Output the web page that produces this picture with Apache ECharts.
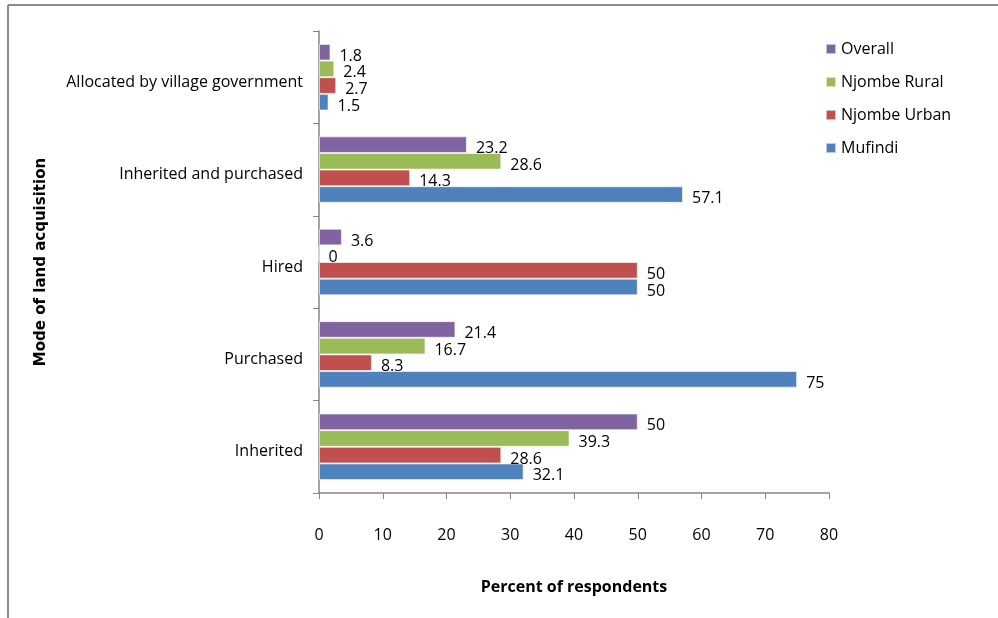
<!DOCTYPE html>
<html>
<head>
<meta charset="utf-8">
<script src="https://cdn.jsdelivr.net/npm/echarts@6/dist/echarts.min.js"></script>
<style>
  html, body { margin: 0; padding: 0; background: #fff; }
  #chart { width: 998px; height: 618px; }
</style>
</head>
<body>
<div id="chart"></div>
<script>
var modes = ['Inherited', 'Purchased', 'Hired', 'Inherited and purchased', 'Allocated by village government'];
var mufindi = [32.1, 75, 50, 57.1, 1.5];
var njombeUrban = [28.6, 8.3, 50, 14.3, 2.7];
var njombeRural = [39.3, 16.7, 0, 28.6, 2.4];
var overall = [50, 21.4, 3.6, 23.2, 1.8];
var xTicks = [0, 10, 20, 30, 40, 50, 60, 70, 80];

var font = '"Open Sans", sans-serif';

function bar(name, values, color) {
    return {
        name: name,
        type: 'bar',
        data: values,
        barGap: '0%',
        barCategoryGap: '28%',
        itemStyle: { color: color, borderColor: 'rgba(255,255,255,0.6)', borderWidth: 1 },
        label: {
            show: true,
            position: 'right',
            distance: 9,
            offset: [0, 4],
            color: '#000',
            fontFamily: font,
            fontSize: 16
        }
    };
}

var chart = echarts.init(document.getElementById('chart'));
chart.setOption({
    animation: false,
    backgroundColor: '#fff',
    textStyle: { fontFamily: font },
    graphic: [
        { type: 'line', shape: { x1: 8, y1: 5, x2: 998, y2: 5 }, style: { stroke: '#8c8c8c', lineWidth: 2 } },
        { type: 'line', shape: { x1: 8, y1: 5, x2: 8, y2: 618 }, style: { stroke: '#8c8c8c', lineWidth: 2 } }
    ],
    grid: { left: 319, right: 169, top: 31, bottom: 125 },
    legend: {
        orient: 'vertical',
        left: 820,
        top: 36,
        itemWidth: 10,
        itemHeight: 10,
        itemGap: 17,
        icon: 'rect',
        data: ['Overall', 'Njombe Rural', 'Njombe Urban', 'Mufindi'],
        textStyle: { fontFamily: font, fontSize: 16, color: '#000' }
    },
    xAxis: {
        type: 'value',
        min: 0,
        max: 80,
        interval: 10,
        name: 'Percent of respondents',
        nameLocation: 'middle',
        nameGap: 86,
        nameTextStyle: { fontFamily: font, fontSize: 16, fontWeight: 'bold', color: '#000' },
        axisLine: { show: true, lineStyle: { color: '#868686', width: 1.5 } },
        axisTick: { show: true, length: 6, lineStyle: { color: '#868686' } },
        axisLabel: {
            margin: 34,
            fontSize: 16,
            color: '#000',
            fontFamily: font,
            formatter: function (v) { return xTicks.indexOf(v) >= 0 ? String(v) : ''; }
        },
        splitLine: { show: false }
    },
    yAxis: {
        type: 'category',
        data: modes,
        name: 'Mode of land acquisition',
        nameLocation: 'middle',
        nameRotate: 90,
        nameGap: 270,
        nameTextStyle: { fontFamily: '"DejaVu Sans", sans-serif', fontSize: 15, fontWeight: 'bold', color: '#000' },
        axisLine: { show: true, lineStyle: { color: '#868686', width: 1.5 } },
        axisTick: { show: true, length: 6, alignWithLabel: false, lineStyle: { color: '#868686' } },
        // labels sit a little below the band centre, as in the original
        axisLabel: { margin: 16, fontSize: 16, color: '#000', fontFamily: font, verticalAlign: 'top', lineHeight: 10 }
    },
    // first series sits at the top of each band
    series: [
        bar('Overall', overall, '#8064A2'),
        bar('Njombe Rural', njombeRural, '#9BBB59'),
        bar('Njombe Urban', njombeUrban, '#C0504D'),
        bar('Mufindi', mufindi, '#4F81BD')
    ]
});
</script>
</body>
</html>
